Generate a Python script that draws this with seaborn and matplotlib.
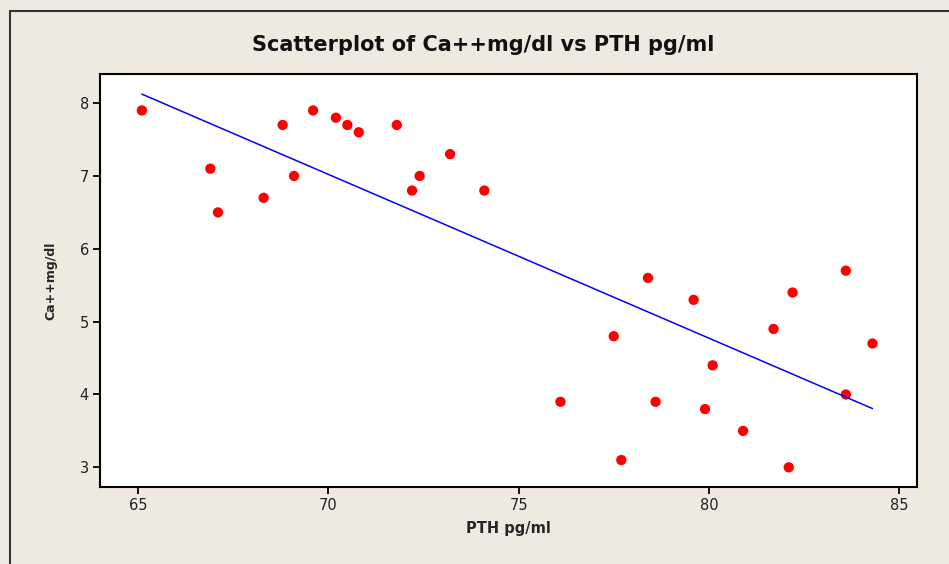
import pandas as pd
import seaborn as sns
import matplotlib.pyplot as plt
from matplotlib.lines import Line2D

# Data
pth = [65.1, 66.9, 67.1, 68.3, 68.8, 69.1, 69.6, 70.2, 70.5, 70.8,
       71.8, 72.2, 72.4, 73.2, 74.1, 76.1, 77.5, 77.7, 78.4, 78.6,
       79.6, 79.9, 80.1, 80.9, 81.7, 82.1, 82.2, 83.6, 83.6, 84.3]
ca = [7.9, 7.1, 6.5, 6.7, 7.7, 7.0, 7.9, 7.8, 7.7, 7.6,
      7.7, 6.8, 7.0, 7.3, 6.8, 3.9, 4.8, 3.1, 5.6, 3.9,
      5.3, 3.8, 4.4, 3.5, 4.9, 3.0, 5.4, 5.7, 4.0, 4.7]
x_ticks = [65, 70, 75, 80, 85]
y_ticks = [3, 4, 5, 6, 7, 8]

df = pd.DataFrame({'PTH pg/ml': pth, 'Ca++mg/dl': ca})

sns.set_style('white')
bg = '#efeae0'

fig = plt.figure(figsize=(9.49, 5.64), dpi=100, facecolor=bg)
ax = fig.add_axes([100 / 949, 1 - 487 / 564, 817 / 949, 413 / 564])
ax.set_facecolor('white')

# scatter + least squares line
sns.regplot(data=df, x='PTH pg/ml', y='Ca++mg/dl', ax=ax, ci=None,
            scatter_kws={'color': '#ff0000', 's': 55, 'edgecolor': 'none', 'alpha': 1},
            line_kws={'color': '#0000ff', 'linewidth': 1.1})

ax.set_xlim(64.0, 85.47)
ax.set_ylim(2.73, 8.40)
ax.set_xticks(x_ticks)
ax.set_yticks(y_ticks)
ax.tick_params(axis='both', direction='out', length=5, width=1.3, color='black',
               labelsize=10.5, labelcolor='#222222', pad=3,
               bottom=True, left=True)
for sp in ax.spines.values():
    sp.set_color('black')
    sp.set_linewidth(1.5)

ax.set_xlabel('PTH pg/ml', fontsize=10.5, fontweight='bold', labelpad=6)
ax.set_ylabel('Ca++mg/dl', fontsize=9, fontweight='bold', labelpad=16)

fig.text(483 / 949, 1 - 45 / 564, 'Scatterplot of Ca++mg/dl vs PTH pg/ml',
         ha='center', va='center', fontsize=15, fontweight='bold', color='#111111')

# outer frame like the source window
fig.add_artist(Line2D([10 / 949, 1], [1 - 11 / 564, 1 - 11 / 564],
                      transform=fig.transFigure, color='#333333', linewidth=1.5))
fig.add_artist(Line2D([10 / 949, 10 / 949], [0, 1 - 11 / 564],
                      transform=fig.transFigure, color='#333333', linewidth=1.5))

fig.savefig('out.png', dpi=100, facecolor=bg)
